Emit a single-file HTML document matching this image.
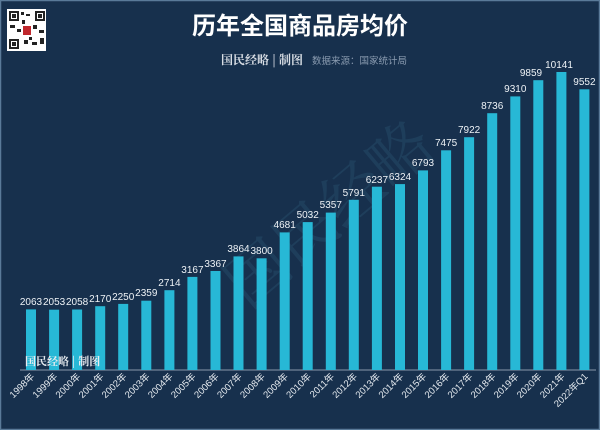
<!DOCTYPE html>
<html><head><meta charset="utf-8"><style>
html,body{margin:0;padding:0;background:#17304d;}
svg{display:block;}
</style></head><body>
<svg width="600" height="430" viewBox="0 0 600 430" xmlns="http://www.w3.org/2000/svg" font-family="'Liberation Sans','Noto Sans CJK SC',sans-serif">
<rect x="0" y="0" width="600" height="430" fill="#17304d"/>
<rect x="0.5" y="0.5" width="599" height="429" fill="none" stroke="#5a7a99" stroke-width="1.5"/>
<rect x="7" y="9" width="39" height="42" fill="#fff"/>
<g fill="#222">
<rect x="9" y="11" width="10" height="10"/><rect x="35" y="11" width="10" height="10"/><rect x="9" y="39" width="10" height="10"/>
<rect x="11" y="13" width="6" height="6" fill="#fff"/><rect x="37" y="13" width="6" height="6" fill="#fff"/><rect x="11" y="41" width="6" height="6" fill="#fff"/>
<rect x="12" y="14" width="4" height="4"/><rect x="38" y="14" width="4" height="4"/><rect x="12" y="42" width="4" height="4"/>
<rect x="21" y="12" width="3" height="3"/><rect x="26" y="14" width="4" height="2"/><rect x="22" y="20" width="3" height="4"/>
<rect x="10" y="25" width="5" height="3"/><rect x="17" y="29" width="4" height="3"/><rect x="33" y="25" width="4" height="4"/>
<rect x="39" y="30" width="5" height="3"/><rect x="24" y="40" width="4" height="4"/><rect x="32" y="42" width="5" height="3"/>
<rect x="40" y="38" width="4" height="6"/><rect x="29" y="37" width="3" height="3"/>
</g>
<rect x="23" y="26" width="8" height="9" fill="#c0282d"/>
<text x="300" y="34" text-anchor="middle" fill="#fff" font-size="24" font-weight="bold" font-family="'Noto Sans CJK SC',sans-serif">历年全国商品房均价</text>
<text x="262" y="64" text-anchor="middle" fill="#d8dde4" font-size="12" font-weight="bold" font-family="'Noto Serif CJK SC',serif">国民经略 | 制图</text>
<text x="312" y="64" fill="#8a9bb0" font-size="9.5" font-family="'Noto Sans CJK SC',sans-serif">数据来源：国家统计局</text>
<text x="330" y="235" text-anchor="middle" fill="#3a6f90" opacity="0.22" font-size="62" font-family="'Noto Serif CJK SC',serif" transform="rotate(-40 330 215)">国民经略</text>
<line x1="20" y1="370" x2="596" y2="370" stroke="#8898aa" stroke-width="1"/>
<g fill="#27b8d6">
<rect x="26" y="309.4" width="10" height="60.6"/>
<rect x="49.1" y="309.7" width="10" height="60.3"/>
<rect x="72.1" y="309.5" width="10" height="60.5"/>
<rect x="95.2" y="306.2" width="10" height="63.8"/>
<rect x="118.2" y="303.9" width="10" height="66.1"/>
<rect x="141.3" y="300.7" width="10" height="69.3"/>
<rect x="164.4" y="290.2" width="10" height="79.8"/>
<rect x="187.4" y="276.9" width="10" height="93.1"/>
<rect x="210.5" y="271" width="10" height="99"/>
<rect x="233.5" y="256.4" width="10" height="113.6"/>
<rect x="256.6" y="258.3" width="10" height="111.7"/>
<rect x="279.7" y="232.4" width="10" height="137.6"/>
<rect x="302.7" y="222.1" width="10" height="147.9"/>
<rect x="325.8" y="212.6" width="10" height="157.4"/>
<rect x="348.8" y="199.8" width="10" height="170.2"/>
<rect x="371.9" y="186.7" width="10" height="183.3"/>
<rect x="395" y="184.1" width="10" height="185.9"/>
<rect x="418" y="170.4" width="10" height="199.6"/>
<rect x="441.1" y="150.3" width="10" height="219.7"/>
<rect x="464.1" y="137.2" width="10" height="232.8"/>
<rect x="487.2" y="113.2" width="10" height="256.8"/>
<rect x="510.3" y="96.4" width="10" height="273.6"/>
<rect x="533.3" y="80.2" width="10" height="289.8"/>
<rect x="556.4" y="72" width="10" height="298"/>
<rect x="579.4" y="89.3" width="10" height="280.7"/>
</g>
<g fill="#eef2f6" font-size="10" text-anchor="middle">
<text x="31" y="305">2063</text>
<text x="54.1" y="305">2053</text>
<text x="77.1" y="305">2058</text>
<text x="100.2" y="302">2170</text>
<text x="123.2" y="300">2250</text>
<text x="146.3" y="296">2359</text>
<text x="169.4" y="286">2714</text>
<text x="192.4" y="273">3167</text>
<text x="215.5" y="267">3367</text>
<text x="238.5" y="252">3864</text>
<text x="261.6" y="254">3800</text>
<text x="284.7" y="228">4681</text>
<text x="307.7" y="218">5032</text>
<text x="330.8" y="208">5357</text>
<text x="353.8" y="196">5791</text>
<text x="376.9" y="183">6237</text>
<text x="400" y="180">6324</text>
<text x="423" y="166">6793</text>
<text x="446.1" y="146">7475</text>
<text x="469.1" y="133">7922</text>
<text x="492.2" y="109">8736</text>
<text x="515.3" y="92">9310</text>
<text x="531" y="76">9859</text>
<text x="559" y="68">10141</text>
<text x="584.4" y="85">9552</text>
</g>
<g fill="#e6ebf0" font-size="9.5" text-anchor="end" font-family="'Liberation Sans','Noto Sans CJK SC',sans-serif">
<text transform="translate(35,377) rotate(-45)">1998年</text>
<text transform="translate(58.1,377) rotate(-45)">1999年</text>
<text transform="translate(81.1,377) rotate(-45)">2000年</text>
<text transform="translate(104.2,377) rotate(-45)">2001年</text>
<text transform="translate(127.2,377) rotate(-45)">2002年</text>
<text transform="translate(150.3,377) rotate(-45)">2003年</text>
<text transform="translate(173.4,377) rotate(-45)">2004年</text>
<text transform="translate(196.4,377) rotate(-45)">2005年</text>
<text transform="translate(219.5,377) rotate(-45)">2006年</text>
<text transform="translate(242.5,377) rotate(-45)">2007年</text>
<text transform="translate(265.6,377) rotate(-45)">2008年</text>
<text transform="translate(288.7,377) rotate(-45)">2009年</text>
<text transform="translate(311.7,377) rotate(-45)">2010年</text>
<text transform="translate(334.8,377) rotate(-45)">2011年</text>
<text transform="translate(357.8,377) rotate(-45)">2012年</text>
<text transform="translate(380.9,377) rotate(-45)">2013年</text>
<text transform="translate(404,377) rotate(-45)">2014年</text>
<text transform="translate(427,377) rotate(-45)">2015年</text>
<text transform="translate(450.1,377) rotate(-45)">2016年</text>
<text transform="translate(473.1,377) rotate(-45)">2017年</text>
<text transform="translate(496.2,377) rotate(-45)">2018年</text>
<text transform="translate(519.3,377) rotate(-45)">2019年</text>
<text transform="translate(542.3,377) rotate(-45)">2020年</text>
<text transform="translate(565.4,377) rotate(-45)">2021年</text>
<text transform="translate(588.4,377) rotate(-45)">2022年Q1</text>
</g>
<text x="25" y="365" fill="#e8ecf0" font-size="11" font-weight="bold" font-family="'Noto Serif CJK SC',serif">国民经略 | 制图</text>
</svg>
</body></html>
